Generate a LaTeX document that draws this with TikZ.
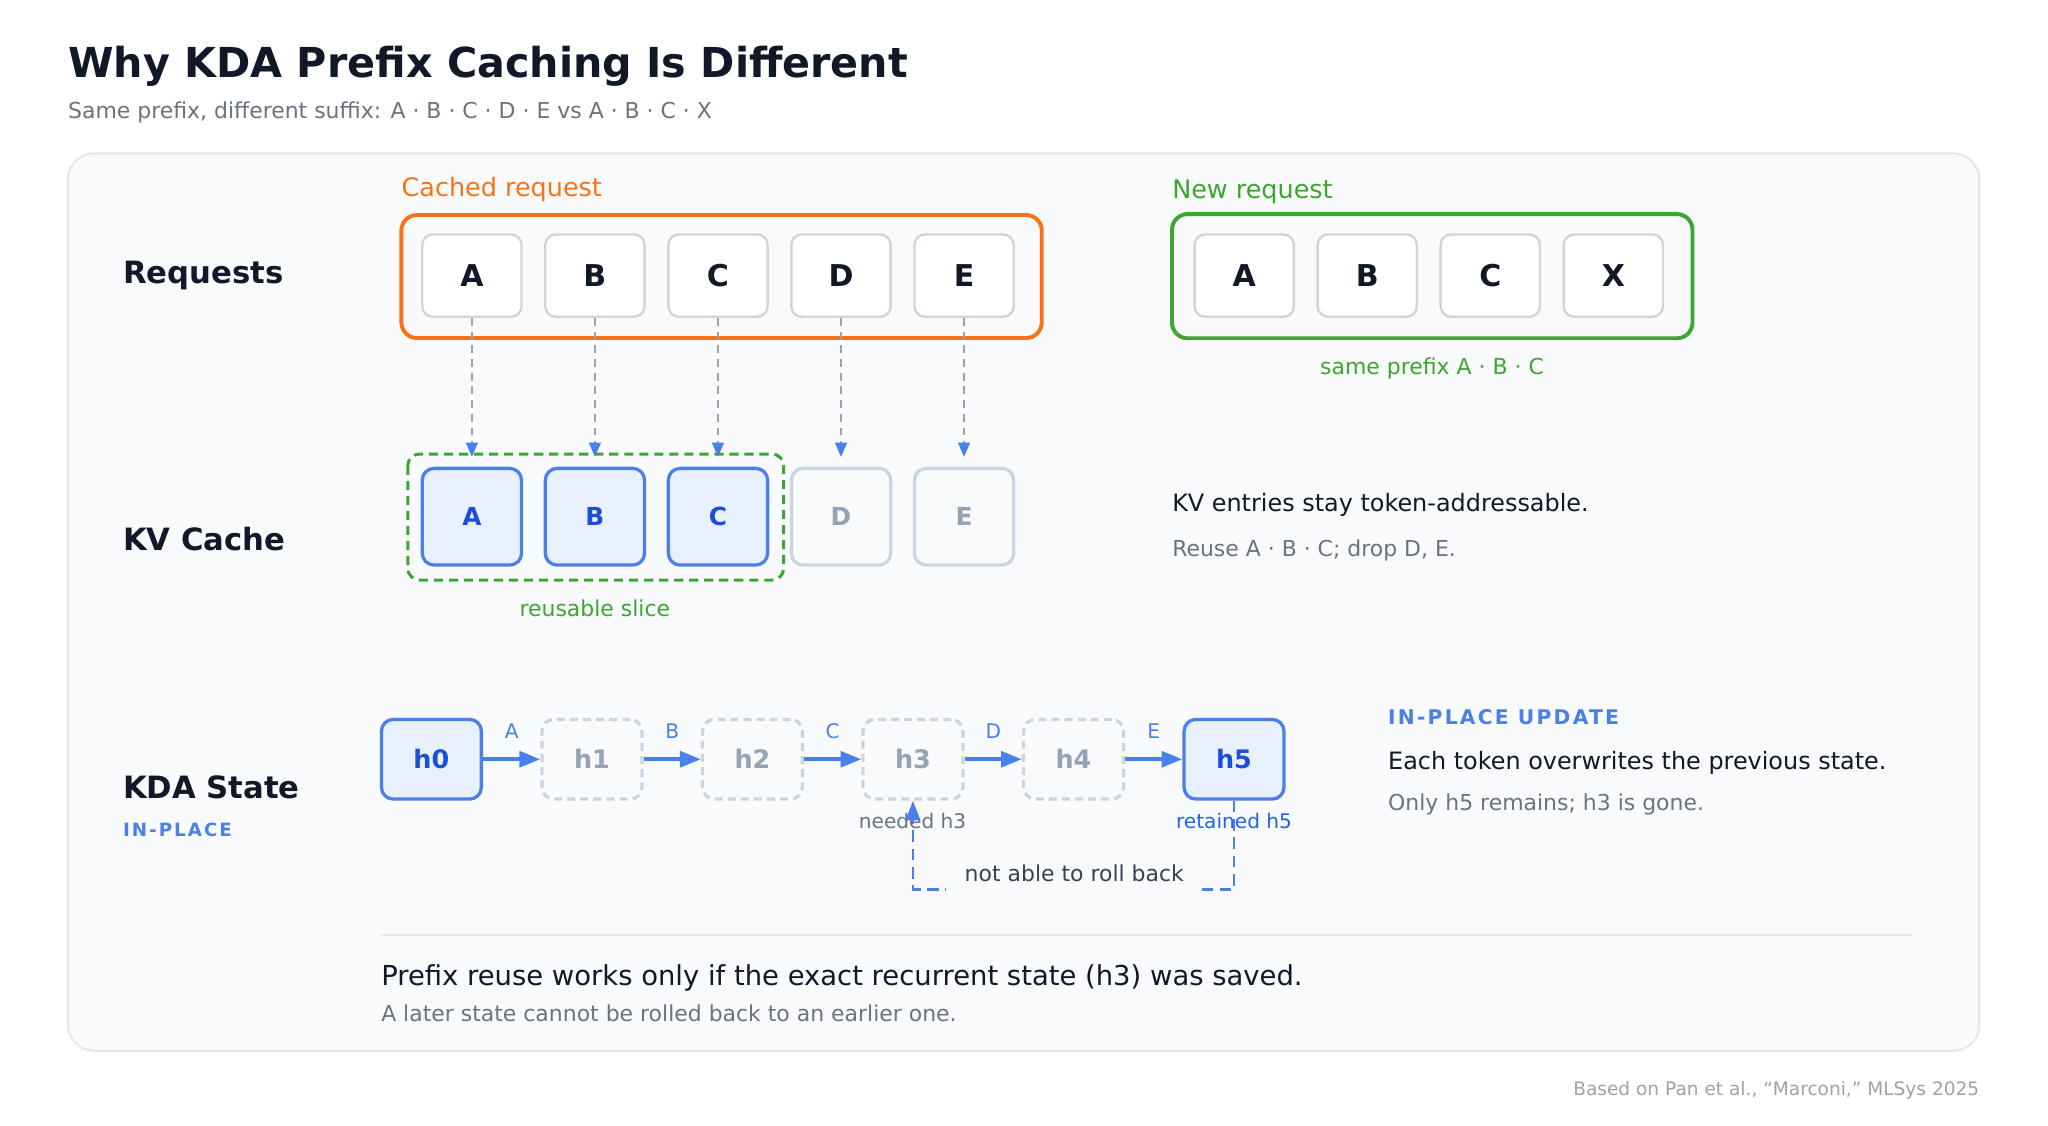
\documentclass[tikz,border=0pt]{standalone}
\usepackage{fontspec}
\setmainfont{DejaVu Sans}
\newfontfamily\spacedfont[LetterSpace=11]{DejaVu Sans}
\usetikzlibrary{arrows.meta}
\definecolor{ink}{HTML}{111827}
\definecolor{inksoft}{HTML}{374151}
\definecolor{muted}{HTML}{6B7280}
\definecolor{faint}{HTML}{9CA3AF}
\definecolor{panel}{HTML}{F8FAFC}
\definecolor{panelline}{HTML}{E5E7EB}
\definecolor{tokline}{HTML}{D1D5DB}
\definecolor{slateline}{HTML}{CBD5E1}
\definecolor{slatetext}{HTML}{94A3B8}
\definecolor{blueline}{HTML}{4A80E8}
\definecolor{bluefill}{HTML}{E8F0FE}
\definecolor{bluetext}{HTML}{1D4ED8}
\definecolor{bluemid}{HTML}{2563EB}
\definecolor{cachedorange}{HTML}{F97316}
\definecolor{newgreen}{HTML}{3EA530}
\newcommand{\fsz}[1]{\fontsize{#1}{#1}\selectfont}

\begin{document}
\begin{tikzpicture}[x=1pt,y=-1pt,
  token/.style={draw=tokline,fill=white,line width=1.8pt,rounded corners=8pt,minimum width=76pt,minimum height=63pt,font=\fsz{23}\bfseries,text=ink},
  kvon/.style={draw=blueline,fill=bluefill,line width=2.5pt,rounded corners=9pt,minimum width=76pt,minimum height=74pt,font=\fsz{19}\bfseries,text=bluetext},
  kvoff/.style={kvon,draw=slateline,fill=panel,text=slatetext},
  stateon/.style={draw=blueline,fill=bluefill,line width=2.5pt,rounded corners=9pt,minimum width=76.5pt,minimum height=61pt,font=\fsz{19.5}\bfseries,text=bluetext},
  stateoff/.style={stateon,draw=slateline,fill=panel,dash pattern=on 6pt off 4pt,text=slatetext},
  feed/.style={draw=faint,line width=1.5pt,dash pattern=on 6pt off 4.5pt,-{Triangle[length=11pt,width=9pt,color=blueline]},shorten >=7.5pt},
  chain/.style={draw=blueline,line width=3pt,-{Triangle[length=16pt,width=12pt]}},
  rollback/.style={draw=blueline,line width=2pt,dash pattern=on 9pt off 5pt,-{Triangle[length=15pt,width=11pt]}},
  textat/.style={anchor=base west,inner sep=0pt},
  rowlabel/.style={textat,font=\fsz{23.5}\bfseries,text=ink},
  primary/.style={textat,font=\fsz{18.3},text=ink},
  secondary/.style={textat,font=\fsz{16.8},text=muted},
  small/.style={anchor=base,font=\fsz{15.4}}]
\useasboundingbox (0,0) rectangle (1568,862);
\fill[white] (0,0) rectangle (1568,862);
\node[textat,font=\fsz{31.6}\bfseries,text=ink] (title) at (52,59) {Why KDA Prefix Caching Is Different};
\node[secondary] (subtitle) at (52,90.4) {Same prefix, different suffix: A · B · C · D · E vs A · B · C · X};
\draw[draw=panelline,fill=panel,line width=1.5pt,rounded corners=20pt] (52.1,117.4) rectangle (1515.5,804.5);

\node[rowlabel] (rowreq) at (94,216.7) {Requests};
\node[rowlabel] (rowkv) at (94,421.1) {KV Cache};
\node[rowlabel] (rowkda) at (94,611.3) {KDA State};
\node[textat,font=\fsz{14}\spacedfont\bfseries,text=blueline] (inplace) at (94,640.7) {IN-PLACE};

\node[textat,font=\fsz{19.5},text=cachedorange] (cachedlbl) at (307.3,150.8) {Cached request};
\draw[draw=cachedorange,line width=3pt,rounded corners=12pt] (307.3,164.6) rectangle (797.6,258.8);
\foreach \t [count=\i] in {A,B,C,D,E}
  \node[token] (r\i) at (267.1+94.2*\i,211) {\t};

\node[textat,font=\fsz{19.5},text=newgreen] (newlbl) at (897.3,151.6) {New request};
\draw[draw=newgreen,line width=3pt,rounded corners=12pt] (897.3,163.9) rectangle (1295.8,259);
\foreach \t [count=\i] in {A,B,C,X}
  \node[token] (n\i) at (858.4+94.2*\i,211) {\t};
\node[anchor=base,font=\fsz{16.8},text=newgreen] (samepfx) at (1096.4,287) {same prefix A · B · C};

\draw[draw=newgreen,line width=2.3pt,dash pattern=on 7pt off 4.5pt,rounded corners=9pt] (312.2,347.6) rectangle (600,444.1);
\foreach \t [count=\i] in {A,B,C}
  \node[kvon] (k\i) at (267.1+94.2*\i,395.6) {\t};
\foreach \t [count=\i from 4] in {D,E}
  \node[kvoff] (k\i) at (267.1+94.2*\i,395.6) {\t};
\foreach \i in {1,...,5}
  \draw[feed] (r\i.south) -- (k\i.north);
\node[anchor=base,font=\fsz{16.8},text=newgreen] (slicelbl) at (455.4,472.2) {reusable slice};
\node[primary] (kvnote) at (897.3,391.8) {KV entries stay token-addressable.};
\node[secondary] (kvsub) at (897.3,426.3) {Reuse A · B · C; drop D, E.};

\node[stateon] (h0) at (330.3,581.3) {h0};
\foreach \i in {1,...,4}
  \node[stateoff] (h\i) at (330.3+122.9*\i,581.3) {h\i};
\node[stateon] (h5) at (944.8,581.3) {h5};
\foreach \a/\b/\t in {0/1/A,1/2/B,2/3/C,3/4/D,4/5/E}
  \draw[chain] (h\a.east) -- (h\b.west) node[small,midway,yshift=15.8pt,text=blueline] (tok\t) {\t};
\node[small,text=muted] (needed) at (698.7,634.3) {needed h3};
\node[small,text=bluemid] (retained) at (944.8,634.3) {retained h5};
\coordinate (rbline) at (0,681);
\draw[rollback] (h5.south) |- (h3.south |- rbline) -- (h3.south);
\node[anchor=base,fill=panel,inner xsep=14pt,inner ysep=8pt,font=\fsz{16.8},text=inksoft] (norollback) at (822.5,675.1) {not able to roll back};

\node[textat,font=\fsz{15.5}\spacedfont\bfseries,text=blueline] (updhead) at (1062.6,555) {IN-PLACE UPDATE};
\node[primary] (updnote) at (1062.6,589) {Each token overwrites the previous state.};
\node[secondary] (updsub) at (1062.6,620.2) {Only h5 remains; h3 is gone.};

\draw[draw=panelline,line width=1.5pt] (291.7,716) -- (1463.8,716);
\node[textat,font=\fsz{21},text=ink] (takeaway) at (291.7,754.2) {Prefix reuse works only if the exact recurrent state (h3) was saved.};
\node[secondary] (takesub) at (291.7,782.3) {A later state cannot be rolled back to an earlier one.};
\node[anchor=base east,inner sep=0pt,font=\fsz{14.2},text=faint] (source) at (1515.5,838.4) {Based on Pan et al., “Marconi,” MLSys 2025};
\end{tikzpicture}
\end{document}
